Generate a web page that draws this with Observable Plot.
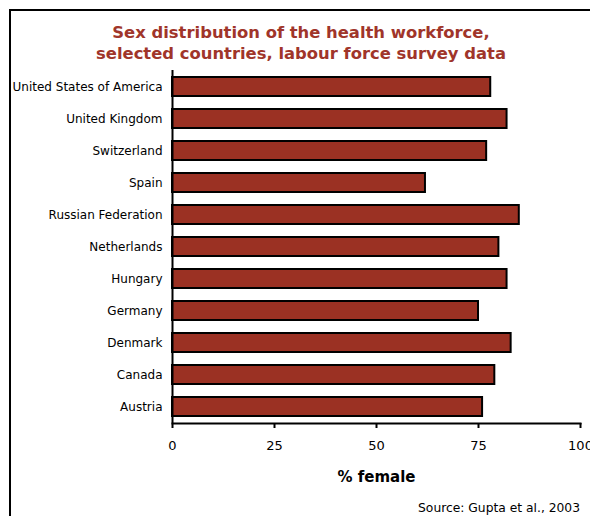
<!DOCTYPE html>
<html>
<head>
<meta charset="utf-8">
<script src="https://cdn.jsdelivr.net/npm/d3@7"></script>
<script src="https://cdn.jsdelivr.net/npm/@observablehq/plot@0.6"></script>
<style>
  html, body { margin: 0; padding: 0; width: 590px; height: 516px; overflow: hidden; background: #fff; }
  #frame { position: absolute; left: 9px; top: 9px; width: 700px; height: 700px; border: 2px solid #000; box-sizing: border-box; }
  #title { position: absolute; left: 0; width: 602px; top: 22px; text-align: center; font-family: "DejaVu Sans", Verdana, sans-serif; font-weight: bold; font-size: 16.4px; line-height: 21px; color: #a0352a; }
  #chart { position: absolute; left: 0; top: 0; }
  #source { position: absolute; right: 10px; top: 501px; font-family: "DejaVu Sans", Verdana, sans-serif; font-size: 12.3px; color: #000; }
  #chart svg [aria-label="x-axis label"] text { font-weight: bold; font-size: 15px; }
</style>
</head>
<body>
<div id="frame"></div>
<div id="title">Sex distribution of the health workforce,<br>selected countries, labour force survey data</div>
<div id="chart"></div>
<div id="source">Source: Gupta et al., 2003</div>
<script>
const countries = ["United States of America", "United Kingdom", "Switzerland", "Spain", "Russian Federation", "Netherlands", "Hungary", "Germany", "Denmark", "Canada", "Austria"];
const percentFemale = [78, 82, 77, 62, 85, 80, 82, 75, 83, 79, 76];
const xTicks = [0, 25, 50, 75, 100];

const data = countries.map((c, i) => ({country: c, value: percentFemale[i]}));

const chart = Plot.plot({
  width: 590,
  height: 516,
  marginLeft: 172,
  marginRight: 10,
  marginTop: 70,
  marginBottom: 93,
  style: {background: "transparent", fontFamily: "'DejaVu Sans', Verdana, sans-serif", fontSize: "12px", color: "#000", overflow: "visible"},
  x: {domain: [0, 100], ticks: xTicks, label: "% female", labelAnchor: "center", labelArrow: "none"},
  y: {domain: countries, paddingInner: 0.4, paddingOuter: 0.2, label: null},
  marks: [
    Plot.barX(data, {x: "value", y: "country", fill: "#9b3123", stroke: "#000", strokeWidth: 2}),
    Plot.frame({anchor: "bottom", stroke: "#000", strokeWidth: 2}),
    Plot.ruleX([0], {stroke: "#000", strokeWidth: 2}),
    Plot.axisY({tickSize: 0, tickPadding: 10, label: null, fontSize: 12}),
    Plot.axisX({ticks: xTicks, tickSize: 5, tickPadding: 12, tickFormat: d => String(d), label: "% female", labelAnchor: "center", labelOffset: 58, labelArrow: "none", stroke: "#000", strokeWidth: 2, strokeOpacity: 1, fontSize: 13})
  ]
});
document.getElementById("chart").appendChild(chart);
</script>
</body>
</html>
